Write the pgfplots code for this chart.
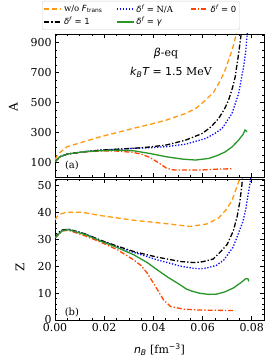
\documentclass[border=0pt]{standalone}
\usepackage{pgfplots}
\pgfplotsset{compat=1.18}
\usepackage{fontspec}
\setmainfont{DejaVu Serif}
\newfontfamily\dvs{DejaVu Sans}
\newcommand{\mi}[1]{{\dvs\itshape #1}}
\newcommand{\mr}[1]{{\dvs #1}}
\newcommand{\df}{\mi{δ}\textsuperscript{\mi{f}}}
\definecolor{corange}{RGB}{255,153,20}
\definecolor{cblue}{RGB}{10,10,255}
\definecolor{cgreen}{RGB}{40,150,40}
\definecolor{cred}{RGB}{255,69,0}
\pgfplotsset{
  common/.style={
    scale only axis, width=209bp,
    xmin=0, xmax=0.085,
    xtick={0,0.02,0.04,0.06,0.08},
    minor xtick={0.005,0.01,0.015,0.025,0.03,0.035,0.045,0.05,0.055,0.065,0.07,0.075,0.085},
    scaled x ticks=false,
    tick align=inside, xtick pos=both, ytick pos=both,
    xticklabel pos=lower, yticklabel pos=left,
    major tick length=4bp, minor tick length=2bp,
    tick style={black, line width=0.5bp},
    axis line style={black, line width=0.6bp},
    /pgf/number format/assume math mode=true,
    ticklabel style={font=\fontsize{11}{13}\selectfont},
    clip=true,
  },
  lw/.style={line width=1.3bp},
}
\begin{document}
\begin{tikzpicture}
% ---------------- top panel ----------------
\begin{axis}[common,
  at={(55bp,183bp)}, anchor=south west, height=143bp,
  ymin=5, ymax=958,
  ytick={100,300,500,700,900},
  minor ytick={50,150,200,250,350,400,450,550,600,650,750,800,850,950},
  xticklabels={},
  ylabel={A},
  ylabel style={font=\fontsize{12}{14}\selectfont, at={(axis description cs:-0.2,0.49)}, anchor=center},
  legend columns=3,
  legend style={at={(-0.062,1.028)}, anchor=south west, draw=gray!35, rounded corners=2bp,
    font=\fontsize{8.5}{10}\selectfont, inner sep=1.5bp, row sep=0bp,
    /tikz/every even column/.append style={column sep=2bp}},
  legend cell align=left,
]
\addplot[corange, lw, dash pattern=on 5bp off 3bp] coordinates {
(0,120) (0.001,150) (0.0023,173) (0.005,207) (0.0117,240) (0.0184,273) (0.025,300) (0.0318,329) (0.0385,355) (0.0452,384) (0.0532,429) (0.0575,465) (0.0613,518) (0.0645,570) (0.0666,629) (0.0688,700) (0.0706,784) (0.0722,860) (0.0733,929) (0.0738,970)};
\addlegendentry{\makebox[48bp][l]{w/o \mi{F}\textsubscript{\mr{trans}}}}
\addplot[cblue, lw, dash pattern=on 1.3bp off 1.7bp] coordinates {
(0,107) (0.002,140) (0.005,158) (0.0117,173) (0.0184,184) (0.025,190) (0.0318,196) (0.0385,200) (0.0452,207) (0.0532,224) (0.0613,262) (0.065,295) (0.068,329) (0.072,429) (0.0747,562) (0.0767,740) (0.0775,830) (0.078,929) (0.0783,970)};
\addlegendentry{\makebox[50bp][l]{\df\mr{ = }N/A}}
\addplot[cred, lw, dash pattern=on 5bp off 2bp on 1.3bp off 2bp] coordinates {
(0,107) (0.002,140) (0.005,158) (0.0117,172) (0.0184,178) (0.025,178) (0.0318,169) (0.0355,155) (0.0385,136) (0.0425,96) (0.0452,65) (0.0475,54) (0.0492,51) (0.0586,51) (0.0653,57) (0.072,60)};
\addlegendentry{\df\mr{ = 0}}
\addplot[black, lw, dash pattern=on 5bp off 2bp on 1.3bp off 2bp] coordinates {
(0,107) (0.002,140) (0.005,158) (0.0117,173) (0.0184,184) (0.025,190) (0.0318,196) (0.0385,205) (0.0452,218) (0.0532,251) (0.06,296) (0.0635,340) (0.0666,396) (0.069,460) (0.0706,518) (0.0722,600) (0.0733,673) (0.0747,829) (0.0755,930) (0.0758,970)};
\addlegendentry{\df\mr{ = 1}}
\addplot[cgreen, lw] coordinates {
(0,107) (0.002,140) (0.005,158) (0.0117,173) (0.0184,180) (0.025,184) (0.0318,180) (0.0385,162) (0.0452,140) (0.0519,124) (0.0572,118) (0.0626,129) (0.066,148) (0.0693,173) (0.072,205) (0.0747,251) (0.0765,290) (0.0773,318) (0.0778,312) (0.078,305)};
\addlegendentry{\df\mr{ = \itshape γ}}
\node[font=\fontsize{11}{13}\selectfont] at (rel axis cs:0.531,0.867) {\mi{β}-eq};
\node[font=\fontsize{11}{13}\selectfont] at (rel axis cs:0.555,0.734) {\mi{k}\textsubscript{\mi{B}}\mi{T}\mr{ = 1.5} MeV};
\node[font=\fontsize{10}{12}\selectfont] at (rel axis cs:0.081,0.077) {(a)};
\end{axis}
% ---------------- bottom panel ----------------
\begin{axis}[common,
  at={(55bp,40bp)}, anchor=south west, height=141bp,
  ymin=0, ymax=52.3,
  ytick={0,10,20,30,40,50},
  minor ytick={2,4,6,8,12,14,16,18,22,24,26,28,32,34,36,38,42,44,46,48,52},
  xticklabel style={/pgf/number format/fixed, /pgf/number format/fixed zerofill, /pgf/number format/precision=2},
  ylabel={Z},
  ylabel style={font=\fontsize{12}{14}\selectfont, at={(axis description cs:-0.167,0.376)}, anchor=center},
  xlabel={\mi{n}\textsubscript{\mi{B}} [fm\textsuperscript{\mr{−3}}]},
  xlabel style={font=\fontsize{11}{13}\selectfont, at={(axis description cs:0.5,-0.213)}, anchor=center},
]
\addplot[corange, lw, dash pattern=on 5bp off 3bp] coordinates {
(0,37.2) (0.001,38.5) (0.002,39.2) (0.004,39.8) (0.0054,40) (0.0107,40) (0.0188,38.7) (0.032,37) (0.0456,35.7) (0.0548,34.7) (0.0617,35.6) (0.0665,37.8) (0.0697,41) (0.072,44.4) (0.0744,50.5) (0.0755,53.5)};
\addplot[cblue, lw, dash pattern=on 1.3bp off 1.7bp] coordinates {
(0,30.4) (0.003,33.3) (0.0054,33.6) (0.012,32) (0.0188,29.4) (0.025,27.3) (0.032,25.1) (0.0416,22.3) (0.051,20) (0.056,19.2) (0.059,19) (0.0617,19.3) (0.0657,20.3) (0.0686,22.2) (0.0724,27) (0.0741,30.9) (0.0764,36.5) (0.0775,40.7) (0.079,49) (0.0797,53)};
\addplot[cred, lw, dash pattern=on 5bp off 2bp on 1.3bp off 2bp] coordinates {
(0,30.5) (0.003,33) (0.0054,33.3) (0.012,31.3) (0.0188,28.8) (0.0255,26) (0.032,22.3) (0.035,20.2) (0.0375,17.4) (0.0409,12.4) (0.0442,7.4) (0.047,5) (0.0523,4) (0.059,3.7) (0.0655,3.6) (0.0724,3.5)};
\addplot[black, lw, dash pattern=on 5bp off 2bp on 1.3bp off 2bp] coordinates {
(0,30.4) (0.0015,32.5) (0.003,33.4) (0.0054,33.7) (0.012,32) (0.0188,29.5) (0.025,27.5) (0.032,25.4) (0.0416,23.3) (0.051,21.7) (0.0563,21.3) (0.06,21.6) (0.0643,22.6) (0.0672,25.2) (0.07,28) (0.0725,33) (0.0741,38.5) (0.0752,44) (0.076,50) (0.0765,55)};
\addplot[cgreen, lw] coordinates {
(0,30.5) (0.003,33.2) (0.0054,33.5) (0.012,31.8) (0.0188,29.2) (0.025,27) (0.032,24.2) (0.0375,21.3) (0.0416,18.6) (0.046,15.8) (0.051,13) (0.0534,11.5) (0.056,10.6) (0.059,9.9) (0.0625,9.5) (0.0657,9.6) (0.069,10.4) (0.0724,11.8) (0.0755,13.8) (0.0777,15.4) (0.0785,15.2) (0.0788,14.3)};
\node[font=\fontsize{10}{12}\selectfont] at (rel axis cs:0.081,0.05) {(b)};
\end{axis}
\pgfresetboundingbox
\path (0bp,0bp) rectangle (270bp,360bp);
\end{tikzpicture}
\end{document}
